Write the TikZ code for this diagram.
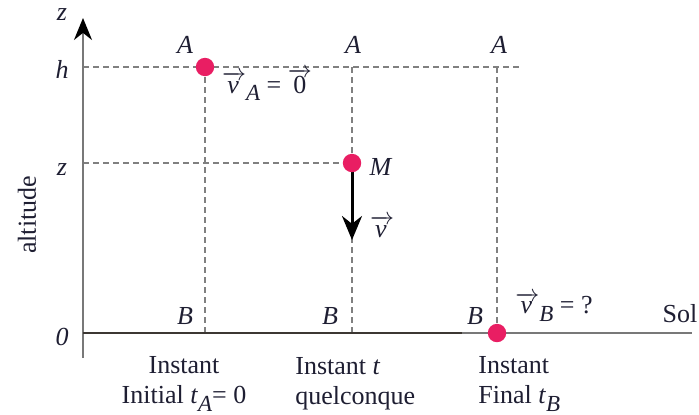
\documentclass[tikz,border=0pt]{standalone}
\usepackage{fontspec}
\setmainfont{Liberation Serif}
\usepackage{tikz}
\usetikzlibrary{arrows.meta}
\usepackage{xcolor}
\definecolor{dotpink}{RGB}{233, 30, 99}
\definecolor{dashgray}{RGB}{128, 128, 128}
\definecolor{axisgray}{RGB}{120, 120, 120}
\definecolor{groundc}{RGB}{60, 55, 50}
\definecolor{labc}{RGB}{30, 30, 50}
\newcommand{\vecv}{$\overrightarrow{\rule{0pt}{1.25ex}\mbox{\itshape v\kern1pt}}$}
\newcommand{\lowsub}[1]{\raisebox{-0.3em}{\fontsize{11.5}{12}\selectfont\itshape #1}}

\begin{document}
\begin{tikzpicture}[x=0.5pt, y=0.5pt, >=Stealth,
    lab/.style={text=labc, font=\fontsize{13}{15}\selectfont, inner sep=0pt},
    guide/.style={dashgray, line width=1.1pt, dash pattern=on 3pt off 2pt}]
    \useasboundingbox (-83,-81) rectangle (616,333);
    % points
    \coordinate (O) at (0,0);
    \coordinate (axbot) at (0,-25);
    \coordinate (axtop) at (0,315);
    \coordinate (hL) at (0,266);
    \coordinate (hR) at (439,266);
    \coordinate (zL) at (0,170);
    \coordinate (A1) at (122,266);
    \coordinate (A2) at (269,266);
    \coordinate (A3) at (414,266);
    \coordinate (B1) at (122,0);
    \coordinate (B2) at (269,0);
    \coordinate (B3) at (414,0);
    \coordinate (M) at (269,170);
    \coordinate (vtip) at (269,93);
    \coordinate (gmid) at (379,0);
    \coordinate (solend) at (609,0);
    % guide lines
    \draw[guide] (hL) -- (hR);
    \draw[guide] (zL) -- (M);
    \draw[guide] (A1) -- (B1);
    \draw[guide] (A2) -- (B2);
    \draw[guide] (A3) -- (B3);
    % axis and ground
    \draw[axisgray, line width=1pt, -{Stealth[length=11pt, width=9pt, black]}] (axbot) -- (axtop);
    \draw[groundc, line width=1pt] (O) -- (gmid);
    \draw[axisgray, line width=1pt] (gmid) -- (solend);
    % velocity
    \draw[black, line width=1.5pt, -{Stealth[length=12pt, width=10pt]}] (M) -- (vtip);
    \fill[dotpink] (A1) circle (4.6pt);
    \fill[dotpink] (M) circle (4.6pt);
    \fill[dotpink] (B3) circle (4.6pt);
    % labels
    \node[lab] (zlab) at (-21,318) {\textit{z}};
    \node[lab] (hlab) at (-21,264) {\textit{h}};
    \node[lab] (zmid) at (-21,163) {\textit{z}};
    \node[lab] (zero) at (-21,-4) {\textit{0}};
    \node[lab, rotate=90] (alt) at (-56,118) {altitude};
    \node[lab] (lA1) at (102,288) {\textit{A}};
    \node[lab] (lA2) at (270,288) {\textit{A}};
    \node[lab] (lA3) at (416,288) {\textit{A}};
    \node[lab] (lB1) at (102,17) {\textit{B}};
    \node[lab] (lB2) at (247,17) {\textit{B}};
    \node[lab] (lB3) at (392,17) {\textit{B}};
    \node[lab] (lM) at (298,166) {\textit{M}};
    \node[lab] (lv) at (299,106) {\vecv};
    \node[lab] (lvA) at (184,248) {\vecv\lowsub{A} = $\overrightarrow{\mbox{0}}$};
    \node[lab] (lvB) at (471,26) {\vecv\lowsub{B} = ?};
    \node[lab] (sol) at (597,19) {Sol};
    \node[lab, align=center] (t1) at (101,-51) {Instant\\Initial \textit{t}\lowsub{A}= 0};
    \node[lab, align=left, anchor=west] (t2) at (212,-51) {Instant \textit{t}\\quelconque};
    \node[lab, align=left, anchor=west] (t3) at (395,-51) {Instant\\Final \textit{t}\lowsub{B}};
\end{tikzpicture}
\end{document}
